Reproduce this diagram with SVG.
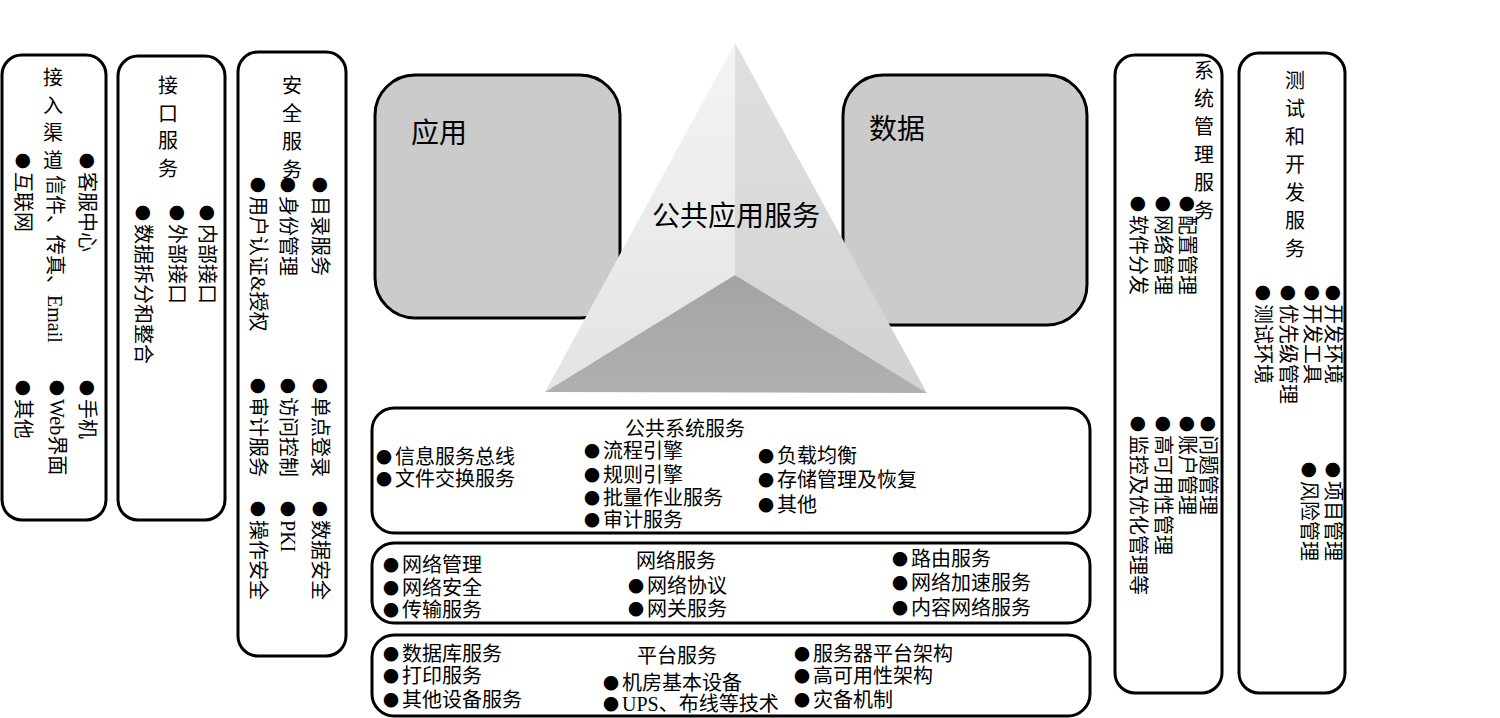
<svg xmlns="http://www.w3.org/2000/svg" width="1500" height="718" viewBox="0 0 1500 718">
<defs>
<style>
.box{fill:#fff;stroke:#000;stroke-width:3}
.gbox{fill:#cbcbcb;stroke:#000;stroke-width:3}
.t{font-family:"Liberation Serif","Noto Sans CJK SC",serif;font-size:20px;fill:#000}
.tt{font-family:"Noto Sans CJK SC",serif;font-size:20px;fill:#000;text-anchor:middle}
.big{font-family:"Liberation Serif","Noto Sans CJK SC",serif;font-size:28px;fill:#000}
.b{font-family:"Noto Sans CJK SC",sans-serif;font-size:16px;letter-spacing:3px;baseline-shift:1.5px}
</style>
<linearGradient id="lf" x1="0" y1="0" x2="0" y2="1">
<stop offset="0" stop-color="#f4f4f4"/><stop offset="1" stop-color="#e3e3e3"/>
</linearGradient>
<linearGradient id="rf" x1="0" y1="0" x2="0" y2="1">
<stop offset="0" stop-color="#e0e0e0"/><stop offset="1" stop-color="#d2d2d2"/>
</linearGradient>
<linearGradient id="bf" x1="0" y1="0" x2="0" y2="1">
<stop offset="0" stop-color="#a4a4a4"/><stop offset="1" stop-color="#b0b0b0"/>
</linearGradient>
</defs>
<rect width="1500" height="718" fill="#fff"/>

<g id="access-channels">
<rect class="box" x="2" y="55" width="104" height="465" rx="20"/>
<text class="tt"><tspan x="53" y="85">接</tspan><tspan x="53" y="113">入</tspan><tspan x="53" y="140">渠</tspan><tspan x="53" y="168">道</tspan></text>
<text class="t" transform="translate(79.5,153) rotate(90)"><tspan class="b">●</tspan>客服中心</text>
<text class="t" transform="translate(47.5,175) rotate(90)">信件、传真、Email</text>
<text class="t" transform="translate(15.5,153) rotate(90)"><tspan class="b">●</tspan>互联网</text>
<text class="t" transform="translate(79.5,380) rotate(90)"><tspan class="b">●</tspan>手机</text>
<text class="t" transform="translate(49.5,380) rotate(90)"><tspan class="b">●</tspan>Web界面</text>
<text class="t" transform="translate(15.5,380) rotate(90)"><tspan class="b">●</tspan>其他</text>
</g>

<g id="interface-services">
<rect class="box" x="118" y="56" width="107" height="464" rx="20"/>
<text class="tt"><tspan x="168" y="93">接</tspan><tspan x="168" y="121">口</tspan><tspan x="168" y="148">服</tspan><tspan x="168" y="176">务</tspan></text>
<text class="t" transform="translate(199.5,205) rotate(90)"><tspan class="b">●</tspan>内部接口</text>
<text class="t" transform="translate(169.5,205) rotate(90)"><tspan class="b">●</tspan>外部接口</text>
<text class="t" transform="translate(135.5,205) rotate(90)"><tspan class="b">●</tspan>数据拆分和整合</text>
</g>

<g id="security-services">
<rect class="box" x="238" y="52" width="108" height="604" rx="20"/>
<text class="tt"><tspan x="292" y="93">安</tspan><tspan x="292" y="121">全</tspan><tspan x="292" y="149">服</tspan><tspan x="292" y="177">务</tspan></text>
<text class="t" transform="translate(312.5,177) rotate(90)"><tspan class="b">●</tspan>目录服务</text>
<text class="t" transform="translate(280.5,177) rotate(90)"><tspan class="b">●</tspan>身份管理</text>
<text class="t" transform="translate(250.5,177) rotate(90)"><tspan class="b">●</tspan>用户认证&amp;授权</text>
<text class="t" transform="translate(312.5,378) rotate(90)"><tspan class="b">●</tspan>单点登录</text>
<text class="t" transform="translate(280.5,378) rotate(90)"><tspan class="b">●</tspan>访问控制</text>
<text class="t" transform="translate(250.5,378) rotate(90)"><tspan class="b">●</tspan>审计服务</text>
<text class="t" transform="translate(312.5,501) rotate(90)"><tspan class="b">●</tspan>数据安全</text>
<text class="t" transform="translate(280.5,501) rotate(90)"><tspan class="b">●</tspan>PKI</text>
<text class="t" transform="translate(250.5,501) rotate(90)"><tspan class="b">●</tspan>操作安全</text>
</g>

<g id="application">
<rect class="gbox" x="375" y="75" width="245" height="243" rx="40"/>
<text class="big" x="411" y="143">应用</text>
</g>

<g id="data">
<rect class="gbox" x="843" y="75" width="244" height="250" rx="40"/>
<text class="big" x="869" y="139">数据</text>
</g>

<g id="common-app-services">
<polygon points="735,43 735,275 545,392" fill="url(#lf)"/>
<polygon points="735,43 927,393 735,275" fill="url(#rf)"/>
<polygon points="735,275 927,393 545,392" fill="url(#bf)"/>
<text class="big" x="736" y="226" text-anchor="middle">公共应用服务</text>
</g>

<g id="common-system-services">
<rect class="box" x="372" y="408" width="718" height="125" rx="22"/>
<text class="t" x="625" y="435.5">公共系统服务</text>
<text class="t" x="376" y="464"><tspan class="b">●</tspan>信息服务总线</text>
<text class="t" x="376" y="486"><tspan class="b">●</tspan>文件交换服务</text>
<text class="t" x="584" y="458"><tspan class="b">●</tspan>流程引擎</text>
<text class="t" x="584" y="482"><tspan class="b">●</tspan>规则引擎</text>
<text class="t" x="584" y="505"><tspan class="b">●</tspan>批量作业服务</text>
<text class="t" x="584" y="527"><tspan class="b">●</tspan>审计服务</text>
<text class="t" x="758" y="463"><tspan class="b">●</tspan>负载均衡</text>
<text class="t" x="758" y="487"><tspan class="b">●</tspan>存储管理及恢复</text>
<text class="t" x="758" y="512"><tspan class="b">●</tspan>其他</text>
</g>

<g id="network-services">
<rect class="box" x="372" y="543" width="718" height="80" rx="22"/>
<text class="t" x="636" y="567.5">网络服务</text>
<text class="t" x="383" y="572"><tspan class="b">●</tspan>网络管理</text>
<text class="t" x="383" y="595"><tspan class="b">●</tspan>网络安全</text>
<text class="t" x="383" y="617"><tspan class="b">●</tspan>传输服务</text>
<text class="t" x="628" y="592.5"><tspan class="b">●</tspan>网络协议</text>
<text class="t" x="628" y="616"><tspan class="b">●</tspan>网关服务</text>
<text class="t" x="892" y="565.5"><tspan class="b">●</tspan>路由服务</text>
<text class="t" x="892" y="589.5"><tspan class="b">●</tspan>网络加速服务</text>
<text class="t" x="892" y="614.5"><tspan class="b">●</tspan>内容网络服务</text>
</g>

<g id="platform-services">
<rect class="box" x="372" y="635" width="718" height="81" rx="22"/>
<text class="t" x="637" y="662.5">平台服务</text>
<text class="t" x="383" y="660.5"><tspan class="b">●</tspan>数据库服务</text>
<text class="t" x="383" y="683"><tspan class="b">●</tspan>打印服务</text>
<text class="t" x="383" y="707"><tspan class="b">●</tspan>其他设备服务</text>
<text class="t" x="603" y="689.5"><tspan class="b">●</tspan>机房基本设备</text>
<text class="t" x="603" y="711"><tspan class="b">●</tspan>UPS、布线等技术</text>
<text class="t" x="794" y="660.5"><tspan class="b">●</tspan>服务器平台架构</text>
<text class="t" x="794" y="683"><tspan class="b">●</tspan>高可用性架构</text>
<text class="t" x="794" y="706.5"><tspan class="b">●</tspan>灾备机制</text>
</g>

<g id="system-management">
<rect class="box" x="1115" y="55" width="107" height="638" rx="20"/>
<text class="tt"><tspan x="1204" y="78">系</tspan><tspan x="1204" y="106">统</tspan><tspan x="1204" y="134">管</tspan><tspan x="1204" y="162">理</tspan><tspan x="1204" y="190">服</tspan><tspan x="1204" y="218">务</tspan></text>
<text class="t" transform="translate(1179.5,196) rotate(90)"><tspan class="b">●</tspan>配置管理</text>
<text class="t" transform="translate(1155.5,196) rotate(90)"><tspan class="b">●</tspan>网络管理</text>
<text class="t" transform="translate(1130.5,196) rotate(90)"><tspan class="b">●</tspan>软件分发</text>
<text class="t" transform="translate(1200.5,416) rotate(90)"><tspan class="b">●</tspan>问题管理</text>
<text class="t" transform="translate(1179.5,416) rotate(90)"><tspan class="b">●</tspan>账户管理</text>
<text class="t" transform="translate(1155.5,416) rotate(90)"><tspan class="b">●</tspan>高可用性管理</text>
<text class="t" transform="translate(1130.5,416) rotate(90)"><tspan class="b">●</tspan>监控及优化管理等</text>
</g>

<g id="test-dev-services">
<rect class="box" x="1239" y="53" width="106" height="640" rx="20"/>
<text class="tt"><tspan x="1295" y="88">测</tspan><tspan x="1295" y="116">试</tspan><tspan x="1295" y="144">和</tspan><tspan x="1295" y="172">开</tspan><tspan x="1295" y="200">发</tspan><tspan x="1295" y="228">服</tspan><tspan x="1295" y="256">务</tspan></text>
<text class="t" transform="translate(1325.5,285) rotate(90)"><tspan class="b">●</tspan>开发环境</text>
<text class="t" transform="translate(1304.5,285) rotate(90)"><tspan class="b">●</tspan>开发工具</text>
<text class="t" transform="translate(1280.5,285) rotate(90)"><tspan class="b">●</tspan>优先级管理</text>
<text class="t" transform="translate(1255.5,285) rotate(90)"><tspan class="b">●</tspan>测试环境</text>
<text class="t" transform="translate(1325.5,462) rotate(90)"><tspan class="b">●</tspan>项目管理</text>
<text class="t" transform="translate(1301.5,462) rotate(90)"><tspan class="b">●</tspan>风险管理</text>
</g>

<g id="connectors"/>
</svg>
